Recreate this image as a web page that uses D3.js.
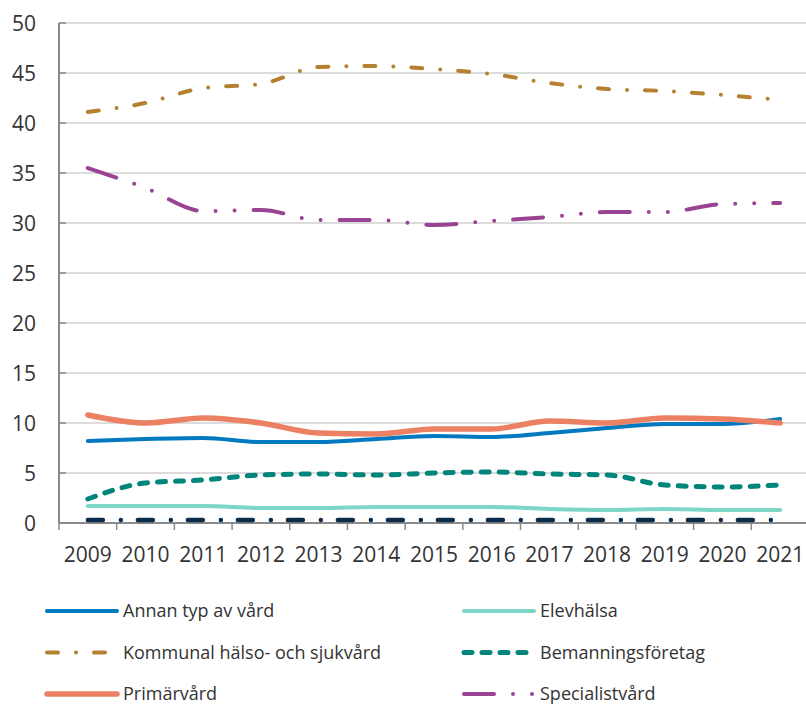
<!DOCTYPE html>
<html>
<head>
<meta charset="utf-8">
<script src="https://cdn.jsdelivr.net/npm/d3@7"></script>
<style>
  html, body { margin: 0; padding: 0; background: #fff; overflow: hidden; }
  svg { display: block; font-family: "Open Sans", "Noto Sans", sans-serif; }
</style>
</head>
<body>
<svg id="chart"></svg>
<script>
const years = [2009, 2010, 2011, 2012, 2013, 2014, 2015, 2016, 2017, 2018, 2019, 2020, 2021];
const yTicks = [0, 5, 10, 15, 20, 25, 30, 35, 40, 45, 50];

const annanTyp = [8.2, 8.4, 8.5, 8.1, 8.1, 8.4, 8.7, 8.6, 9.0, 9.5, 9.9, 9.9, 10.4];
const elevhalsa = [1.7, 1.7, 1.7, 1.5, 1.5, 1.6, 1.6, 1.6, 1.4, 1.3, 1.4, 1.3, 1.3];
const kommunal = [41.1, 42.0, 43.5, 43.9, 45.6, 45.7, 45.4, 44.9, 44.0, 43.4, 43.2, 42.8, 42.3];
const bemanning = [2.4, 4.0, 4.3, 4.8, 4.9, 4.8, 5.0, 5.1, 4.9, 4.8, 3.8, 3.6, 3.8];
const primarvard = [10.8, 10.0, 10.5, 10.0, 9.0, 8.9, 9.4, 9.4, 10.2, 10.0, 10.5, 10.4, 10.0];
const specialist = [35.5, 33.5, 31.2, 31.3, 30.3, 30.3, 29.8, 30.2, 30.6, 31.1, 31.1, 31.9, 32.0];
const ovrigt = [0.3, 0.3, 0.3, 0.3, 0.3, 0.3, 0.3, 0.3, 0.3, 0.3, 0.3, 0.3, 0.3];

const series = [
  {name: "Annan typ av vård", values: annanTyp, color: "#0079c1", width: 4, dash: null, legend: true},
  {name: "Elevhälsa", values: elevhalsa, color: "#7dd6c6", width: 4, dash: null, legend: true},
  {name: "Kommunal hälso- och sjukvård", values: kommunal, color: "#b58130", width: 4, dash: "11,18,0,18", legend: true},
  {name: "Bemanningsföretag", values: bemanning, color: "#00857a", width: 5, dash: "8,10", legend: true},
  {name: "Primärvård", values: primarvard, color: "#ec8062", width: 5.5, dash: null, legend: true},
  {name: "Specialistvård", values: specialist, color: "#9a4393", width: 4, dash: "30,19,0,19,0,19", legend: true},
  {name: "Övrigt", values: ovrigt, color: "#0b2d4a", width: 4.5, dash: "15,18,0,17", legend: false}
];

const width = 806, height = 704;
const margin = {top: 23, left: 59, bottom: 523};
const svg = d3.select("#chart").attr("width", width).attr("height", height);

const x = d3.scaleBand()
    .domain(years)
    .range([margin.left, 809])
    .padding(0);
const y = d3.scaleLinear()
    .domain([0, 50])
    .range([margin.bottom, margin.top]);
const cx = d => x(d) + x.bandwidth() / 2;

// gridlines
svg.append("g")
  .selectAll("line")
  .data(yTicks.filter(d => d > 0))
  .enter().append("line")
    .attr("x1", margin.left)
    .attr("x2", width)
    .attr("y1", d => y(d))
    .attr("y2", d => y(d))
    .attr("stroke", "#d0d0d0")
    .attr("stroke-width", 1.5);

// inner y ticks
svg.append("g")
  .selectAll("line")
  .data(yTicks)
  .enter().append("line")
    .attr("x1", margin.left)
    .attr("x2", margin.left + 7)
    .attr("y1", d => y(d))
    .attr("y2", d => y(d))
    .attr("stroke", "#8a8a8a")
    .attr("stroke-width", 1.5);

// y labels
svg.append("g")
  .selectAll("text")
  .data(yTicks)
  .enter().append("text")
    .attr("x", 36)
    .attr("y", d => y(d))
    .attr("dy", "0.36em")
    .attr("text-anchor", "end")
    .attr("font-size", 21)
    .attr("fill", "#333")
    .text(d => d);

// axes lines
svg.append("line")
    .attr("x1", margin.left).attr("x2", margin.left)
    .attr("y1", margin.top).attr("y2", margin.bottom)
    .attr("stroke", "#8a8a8a").attr("stroke-width", 2);
svg.append("line")
    .attr("x1", margin.left).attr("x2", width)
    .attr("y1", margin.bottom).attr("y2", margin.bottom)
    .attr("stroke", "#8a8a8a").attr("stroke-width", 2);

// x ticks at band edges
svg.append("g")
  .selectAll("line")
  .data(years)
  .enter().append("line")
    .attr("x1", d => x(d))
    .attr("x2", d => x(d))
    .attr("y1", margin.bottom)
    .attr("y2", margin.bottom + 7)
    .attr("stroke", "#8a8a8a")
    .attr("stroke-width", 1.5);

svg.append("g")
  .selectAll("text")
  .data(years)
  .enter().append("text")
    .attr("x", d => cx(d))
    .attr("y", 562)
    .attr("text-anchor", "middle")
    .attr("font-size", 21)
    .attr("fill", "#333")
    .text(d => d);

// lines
const line = d3.line()
    .x((d, i) => cx(years[i]))
    .y(d => y(d))
    .curve(d3.curveMonotoneX);

const order = [6, 1, 3, 0, 4, 5, 2];
svg.append("g")
  .selectAll("path")
  .data(order.map(i => series[i]))
  .enter().append("path")
    .attr("d", d => line(d.values))
    .attr("fill", "none")
    .attr("stroke", d => d.color)
    .attr("stroke-width", d => d.width)
    .attr("stroke-linecap", "round")
    .attr("stroke-linejoin", "round")
    .attr("stroke-dasharray", d => d.dash);

// legend (last row is cut by the bottom edge, as in the original)
const legendItems = series.filter(s => s.legend);
const legend = svg.append("g")
  .selectAll("g")
  .data(legendItems)
  .enter().append("g")
    .attr("transform", (d, i) => {
      const col = i % 2, row = Math.floor(i / 2);
      return `translate(${col === 0 ? 47 : 464},${611 + row * 41.5})`;
    });

legend.append("line")
    .attr("x1", 0)
    .attr("x2", d => d.dash === "8,10" ? 72 : 70)
    .attr("y1", 0).attr("y2", 0)
    .attr("stroke", d => d.color)
    .attr("stroke-width", d => d.width)
    .attr("stroke-linecap", "round")
    .attr("stroke-dasharray", d => d.dash);

legend.append("text")
    .attr("x", 76)
    .attr("y", 0)
    .attr("dy", "0.35em")
    .attr("font-size", 18)
    .attr("fill", "#333")
    .text(d => d.name);
</script>
</body>
</html>
